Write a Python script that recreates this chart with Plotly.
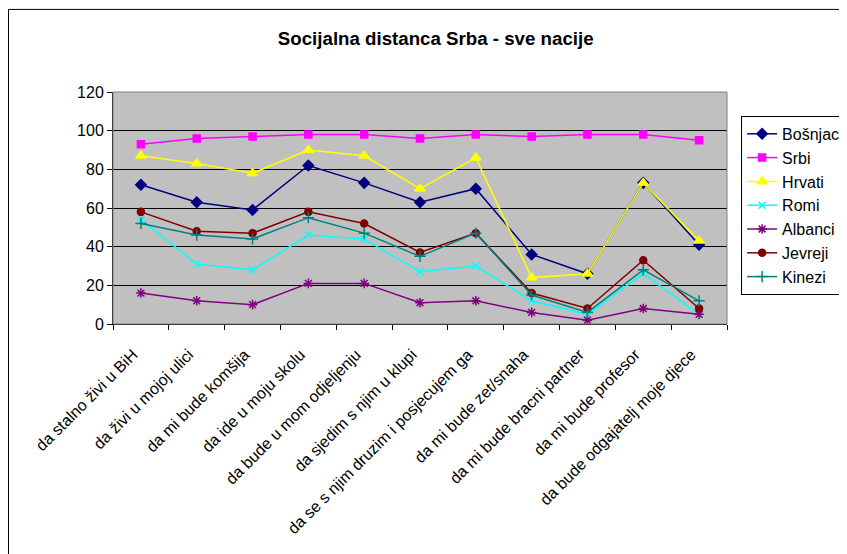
import plotly.graph_objects as go

categories = [
    "da stalno živi u BiH",
    "da živi u mojoj ulici",
    "da mi bude komšija",
    "da ide u moju skolu",
    "da bude u mom odjeljenju",
    "da sjedim s njim u klupi",
    "da se s njim druzim i posjecujem ga",
    "da mi bude zet/snaha",
    "da mi bude bracni partner",
    "da mi bude profesor",
    "da bude odgajatelj moje djece",
]

bosnjaci = [72, 63, 59, 82, 73, 63, 70, 36, 26, 73, 41]
srbi = [93, 96, 97, 98, 98, 96, 98, 97, 98, 98, 95]
hrvati = [87, 83, 78, 90, 87, 70, 86, 24, 26, 73, 43]
romi = [54, 31, 28, 46, 44, 27, 30, 12, 5, 26, 5]
albanci = [16, 12, 10, 21, 21, 11, 12, 6, 2, 8, 5]
jevreji = [58, 48, 47, 58, 52, 37, 47, 16, 8, 33, 8]
kinezi = [52, 46, 44, 55, 47, 35, 47, 15, 6, 28, 12]

series = [
    ("Bošnjaci", bosnjaci, "#000080", "diamond", 8),
    ("Srbi", srbi, "#FF00FF", "square", 7),
    ("Hrvati", hrvati, "#FFFF00", "triangle-up", 9),
    ("Romi", romi, "#00FFFF", "x-thin-open", 7),
    ("Albanci", albanci, "#800080", "asterisk-open", 8),
    ("Jevreji", jevreji, "#800000", "circle", 7),
    ("Kinezi", kinezi, "#008080", "cross-thin-open", 8),
]

fig = go.Figure()
for name, vals, color, sym, size in series:
    fig.add_trace(go.Scatter(
        x=categories, y=vals, name=name, mode="lines+markers",
        line=dict(color=color, width=1.5),
        marker=dict(symbol=sym, size=size, color=color,
                    line=dict(color=color, width=1.5)),
    ))

fig.update_layout(
    width=870, height=546,
    margin=dict(l=105, r=151, t=84, b=230),
    paper_bgcolor="white",
    plot_bgcolor="#C0C0C0",
    font=dict(family="Liberation Sans, Arial, sans-serif", size=16, color="black"),
    title=dict(text="<b>Socijalna distanca Srba - sve nacije</b>",
               x=0.5256, xref="paper", xanchor="center",
               y=1 - 30 / 546, yref="container", yanchor="middle",
               font=dict(size=18.7)),
    showlegend=True,
    legend=dict(x=1.023, y=0.897, xanchor="left", yanchor="top",
                bordercolor="black", borderwidth=1, bgcolor="white",
                font=dict(size=16), itemwidth=30, tracegroupgap=0),
    xaxis=dict(
        type="category", tickangle=-45, showgrid=False,
        showline=True, linecolor="black", linewidth=1,
        ticks="outside", ticklen=5, tickcolor="black",
        tickson="boundaries", range=[-0.5, 10.5],
        tickfont=dict(size=16), automargin=False,
        ticklabelstandoff=14, ticklabelshift=-8,
    ),
    yaxis=dict(
        range=[0, 120], dtick=20, showgrid=True, gridcolor="black", gridwidth=1,
        showline=True, linecolor="black", linewidth=1,
        ticks="outside", ticklen=5, tickcolor="black",
        zeroline=False, tickfont=dict(size=16), automargin=False,
    ),
    shapes=[
        dict(type="rect", xref="paper", yref="paper", x0=0, y0=0, x1=1, y1=1,
             line=dict(color="#808080", width=1), layer="above"),
        dict(type="rect", xref="paper", yref="paper", x0=-0.1702, y0=-1.3, x1=1.4, y1=1.356,
             line=dict(color="black", width=1), layer="below"),
    ],
)

fig.write_html("out.html")
